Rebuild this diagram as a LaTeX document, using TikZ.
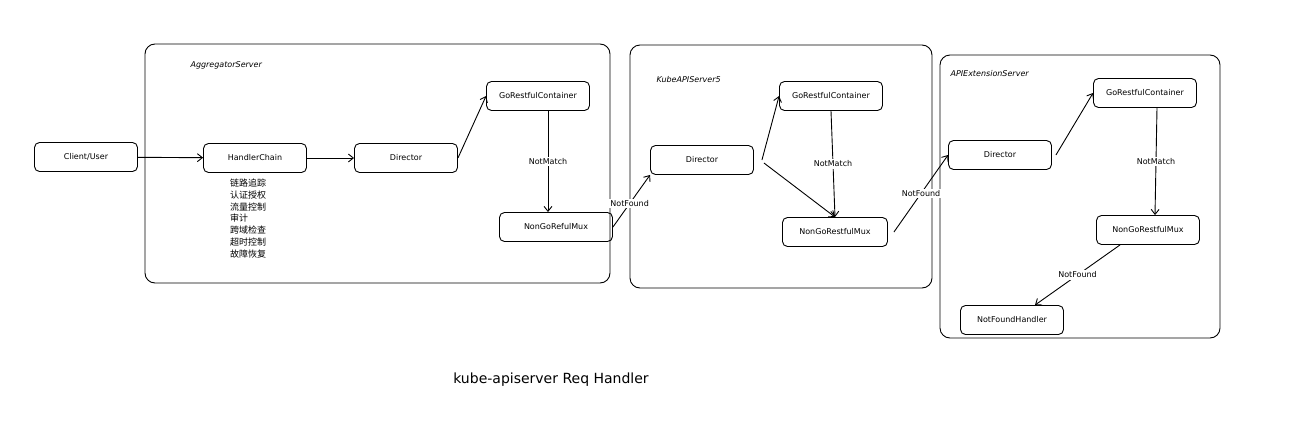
\documentclass[tikz,border=0pt]{standalone}
\usepackage{fontspec}
\setmainfont{DejaVu Sans}
\newfontfamily\cjk{Noto Sans CJK SC}
\usetikzlibrary{arrows.meta}
\tikzset{
  box/.style={draw, rounded corners=5pt, line width=0.9pt, minimum width=103pt, minimum height=29pt, inner sep=1pt, font=\fontsize{8}{9}\selectfont},
  frame/.style={draw, rounded corners=10pt, line width=0.9pt},
  flow/.style={-{Straight Barb[length=5pt,width=8pt]}, line width=0.9pt},
  lbl/.style={fill=white, inner sep=1.5pt, font=\fontsize{8}{9}\selectfont},
  title/.style={font=\fontsize{8}{9}\selectfont\itshape, anchor=west}
}
\begin{document}
\begin{tikzpicture}[x=1pt,y=-1pt]
\useasboundingbox (0,0) rectangle (1294,442);
% frames
\draw[frame] (145,44) rectangle (610,283);
\draw[frame] (630,45) rectangle (932,288);
\draw[frame] (940,55) rectangle (1220,338);
\node[title] (aggname) at (187,65) {AggregatorServer};
\node[title] (kubename) at (653,80) {KubeAPIServer5};
\node[title] (extname) at (947,74) {APIExtensionServer};
% aggregator
\node[box] (client) at (86,157) {Client/User};
\node[box] (chain) at (255,158) {HandlerChain};
\node[box] (dira) at (406,158) {Director};
\node[box] (gra) at (538,96) {GoRestfulContainer};
\node[box, minimum width=113pt] (nga) at (556,227) {NonGoRefulMux};
\node[anchor=north west, align=left, inner sep=0pt, font=\cjk\fontsize{9}{11.7}\selectfont] (checks) at (230,179)
  {链路追踪\\认证授权\\流量控制\\审计\\跨域检查\\超时控制\\故障恢复};
% kube-apiserver
\node[box] (dirb) at (702,160) {Director};
\node[box] (grb) at (831,96) {GoRestfulContainer};
\node[box, minimum width=105pt] (ngb) at (835,232) {NonGoRestfulMux};
% apiextension
\node[box] (dirc) at (1000,155) {Director};
\node[box] (grc) at (1145,93) {GoRestfulContainer};
\node[box] (ngc) at (1148,230) {NonGoRestfulMux};
\node[box] (nfh) at (1012,320) {NotFoundHandler};
% connectors
\draw[flow] (client) -- (chain);
\draw[flow] (chain) -- (dira);
\draw[flow] (dira.east) -- (gra.west);
\draw[flow] ([xshift=10pt]gra.south) -- node[lbl] {NotMatch} ([xshift=-8pt]nga.north);
\draw[flow] (nga.east) -- node[lbl, pos=0.45] {NotFound} (dirb.south west);
\draw[flow] ([xshift=8pt]dirb.east) -- (grb.west);
\draw[flow] ([xshift=10pt,yshift=-3pt]dirb.east) -- (ngb.north);
\draw[flow] (grb.south) -- node[lbl] {NotMatch} (ngb.north);
\draw[flow] ([xshift=6pt]ngb.east) -- node[lbl] {NotFound} (dirc.west);
\draw[flow] ([xshift=4pt]dirc.east) -- (grc.west);
\draw[flow] ([xshift=12pt]grc.south) -- node[lbl] {NotMatch} ([xshift=7pt]ngc.north);
\draw[flow] ([xshift=-28pt]ngc.south) -- node[lbl] {NotFound} ([xshift=23pt]nfh.north);
% caption
\node[font=\fontsize{14}{16}\selectfont] (caption) at (551,380) {kube-apiserver Req Handler};
\end{tikzpicture}
\end{document}
